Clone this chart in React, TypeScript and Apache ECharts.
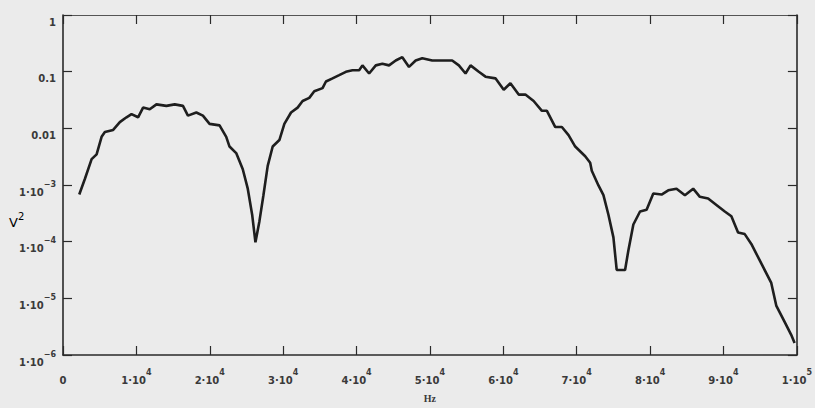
import React, { useEffect, useRef } from "react";
import * as echarts from "echarts";

// Frequency (Hz) and power (V^2)
const freqHz: number[] = [
  2215, 2989, 3900, 4579, 5258, 5707, 6834, 7745, 8655, 9334,
  10231, 10910, 11821, 12731, 14090, 15217, 16345, 17024, 18166, 19062,
  19973, 21332, 22242, 22690, 23600, 24497, 25177, 25775, 26223, 26766,
  27310, 27894, 28573, 29484, 30163, 31073, 31970, 32649, 33560, 34239,
  35367, 35829, 36725, 37636, 38546, 39443, 40353, 40802, 41712, 42622,
  43519, 44429, 45339, 46236, 47146, 48057, 48953, 50312, 53030, 53940,
  54850, 55530, 56657, 57568, 58927, 60054, 60965, 62093, 63003, 64130,
  65258, 65938, 67079, 67976, 68886, 69796, 71155, 71834, 72052, 72962,
  73641, 74321, 75000, 75448, 76590, 77038, 77717, 78628, 79524, 80435,
  81563, 82473, 83601, 84742, 85870, 86780, 87908, 89036, 90177, 91074,
  91984, 92895, 93791, 95150, 96509, 97188, 98329, 99226, 99688,
];
const powerV2: number[] = [
  6.79e-4, 1.29e-3, 2.86e-3, 3.48e-3, 7.09e-3, 8.64e-3, 9.37e-3, 0.01285, 0.01566, 0.01782,
  0.01566, 0.02323, 0.02173, 0.02649, 0.02488, 0.02649, 0.02488, 0.01675, 0.01905, 0.01675,
  0.012, 0.01127, 7.09e-3, 4.77e-3, 3.66e-3, 1.9e-3, 8.61e-4, 2.99e-4, 9.75e-5, 2.3e-4,
  6.61e-4, 2.17e-3, 4.77e-3, 6.22e-3, 0.012, 0.01905, 0.02323, 0.03034, 0.03451, 0.0451,
  0.0513, 0.067, 0.0762, 0.0869, 0.0995, 0.1059, 0.1059, 0.1291, 0.0929, 0.1291,
  0.138, 0.1291, 0.1574, 0.1803, 0.1213, 0.1574, 0.173, 0.1574, 0.1574, 0.1291,
  0.0929, 0.1291, 0.0995, 0.0816, 0.0762, 0.048, 0.0625, 0.0394, 0.0394, 0.03034,
  0.0204, 0.0204, 0.01054, 0.01054, 7.59e-3, 4.77e-3, 3.22e-3, 2.47e-3, 1.78e-3, 9.82e-4,
  6.61e-4, 2.99e-4, 1.19e-4, 3.17e-5, 3.17e-5, 7.0e-5, 2.01e-4, 3.41e-4, 3.65e-4, 7.06e-4,
  6.79e-4, 8.05e-4, 8.61e-4, 6.61e-4, 8.61e-4, 6.18e-4, 5.79e-4, 4.45e-4, 3.41e-4, 2.8e-4,
  1.45e-4, 1.36e-4, 9.12e-5, 4.13e-5, 1.87e-5, 7.45e-6, 3.84e-6, 2.27e-6, 1.63e-6,
];

const xMin = 0;
const xMax = 100000;
const xStep = 10000;
const yMin = 1e-6;
const yMax = 1;
const xName = "Hz";

const ink = "#2a2a2a";
const labelFont = "DejaVu Sans";

const rich = {
  b: { fontSize: 10, fontWeight: "bold" as const, color: "#3a3a3a", fontFamily: labelFont, lineHeight: 17, verticalAlign: "bottom" as const },
  s: { fontSize: 8, fontWeight: "bold" as const, color: "#3a3a3a", fontFamily: labelFont, lineHeight: 17, verticalAlign: "top" as const },
};

function xLabel(v: number): string {
  if (v === 0) return "{b|0}";
  const e = Math.floor(Math.log10(v) + 1e-9);
  const m = Math.round(v / Math.pow(10, e));
  return `{b|${m}·10}{s|${e}}`;
}

function yLabel(v: number): string {
  const e = Math.round(Math.log10(v));
  if (e === 0) return "{b|1}";
  if (e === -1) return "{b|0.1}";
  if (e === -2) return "{b|0.01}";
  return `{b|1·10}{s|−${-e}}`;
}

export default function App() {
  const ref = useRef<HTMLDivElement>(null);
  useEffect(() => {
    if (!ref.current) return;
    const chart = echarts.init(ref.current, undefined, { renderer: "svg" });
    const data = freqHz.map((f, i) => [f, powerV2[i]]);
    const tick = { show: true, inside: true, length: 9, lineStyle: { color: ink, width: 1.2 } };
    chart.setOption({
      animation: false,
      backgroundColor: "#ebebeb",
      grid: { left: 63, right: 16, top: 15, bottom: 44, containLabel: false },
      xAxis: [
        {
          type: "value",
          min: xMin,
          max: xMax,
          interval: xStep,
          name: xName,
          nameLocation: "middle",
          nameGap: 38,
          nameTextStyle: { fontFamily: "Liberation Serif", fontWeight: "bold", fontSize: 10, color: "#3a3a3a" },
          axisLine: { show: true, onZero: false, lineStyle: { color: ink, width: 1.6 } },
          axisTick: tick,
          splitLine: { show: false },
          axisLabel: { margin: 13, formatter: xLabel, rich },
        },
        {
          type: "value",
          position: "top",
          min: xMin,
          max: xMax,
          interval: xStep,
          axisLine: { show: true, onZero: false, lineStyle: { color: "#555", width: 1.2 } },
          axisTick: tick,
          splitLine: { show: false },
          axisLabel: { show: false },
        },
      ],
      yAxis: [
        {
          type: "log",
          logBase: 10,
          min: yMin,
          max: yMax,
          axisLine: { show: true, onZero: false, lineStyle: { color: ink, width: 1.6 } },
          axisTick: tick,
          minorTick: { show: false },
          splitLine: { show: false },
          axisLabel: { margin: 7, formatter: yLabel, rich, padding: [7, 0, 0, 0] },
        },
        {
          type: "log",
          logBase: 10,
          position: "right",
          min: yMin,
          max: yMax,
          axisLine: { show: true, onZero: false, lineStyle: { color: ink, width: 1.6 } },
          axisTick: tick,
          splitLine: { show: false },
          axisLabel: { show: false },
        },
      ],
      graphic: [
        {
          type: "text",
          left: 9,
          top: 211,
          style: {
            text: "{v|V}{p|2}",
            rich: {
              v: { fontSize: 13, fontFamily: labelFont, color: "#333", lineHeight: 18, verticalAlign: "bottom" },
              p: { fontSize: 10, fontFamily: labelFont, color: "#333", lineHeight: 18, verticalAlign: "top" },
            },
          },
        },
      ],
      series: [
        {
          type: "line",
          data,
          showSymbol: false,
          symbol: "none",
          lineStyle: { color: "#1e1e1e", width: 2.6 },
          xAxisIndex: 0,
          yAxisIndex: 0,
        },
      ],
    });
    return () => chart.dispose();
  }, []);
  return (
    <div
      ref={ref}
      style={{ position: "fixed", left: 0, top: 0, width: 815, height: 408, background: "#ebebeb" }}
    />
  );
}
